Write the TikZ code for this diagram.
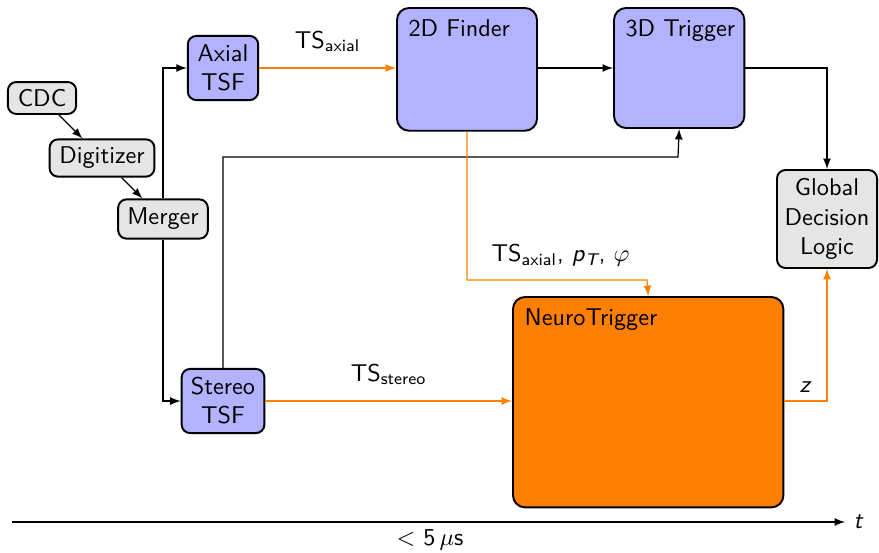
\documentclass[tikz,border=0pt]{standalone}
\usepackage{amsmath}
\renewcommand{\familydefault}{\sfdefault}

\tikzset{
  box/.style={draw, thick, rounded corners=3.5pt, fill=gray!20, align=center, inner sep=3pt},
  tsfbox/.style={box, fill=blue!30, minimum height=0.93cm},
  unitbox/.style={draw, thick, rounded corners=5pt, anchor=north west},
  sig/.style={-latex, line width=0.5pt},
  osig/.style={-latex, line width=0.5pt, draw=orange},
}

\begin{document}
\begin{tikzpicture}[x=0.0145cm, y=-0.0145cm]
\useasboundingbox (0,0) rectangle (879,552);

% front end
\node[box, minimum width=0.99cm, minimum height=0.46cm] (cdc) at (42,98) {CDC};
\node[box, minimum width=1.52cm, minimum height=0.54cm] (digi) at (102,158) {Digitizer};
\node[box, minimum width=1.3cm, minimum height=0.57cm] (merger) at (163,219) {Merger};

% track segment finders
\node[tsfbox, minimum width=1.02cm] (axial) at (223,68) {Axial\\TSF};
\node[tsfbox, minimum width=1.2cm] (stereo) at (223,401) {Stereo\\TSF};

% track finding
\node[unitbox, fill=blue!30, minimum width=2.03cm, minimum height=1.78cm,
  label={[anchor=north west, inner sep=5pt]north west:2D Finder}] (finder) at (396,7) {};
\node[unitbox, fill=blue!30, minimum width=1.89cm, minimum height=1.74cm,
  label={[anchor=north west, inner sep=5pt]north west:3D Trigger}] (trig3d) at (613,7) {};
\node[unitbox, fill=orange, minimum width=3.92cm, minimum height=3.05cm,
  label={[anchor=north west, inner sep=5pt]north west:NeuroTrigger}] (neuro) at (512,296) {};
\node[box, minimum width=1.45cm, minimum height=1.42cm] (gdl) at (827,219) {Global\\Decision\\Logic};

% connections
\draw[sig] (cdc) -- (digi);
\draw[sig] (digi) -- (merger);
\draw[sig] (merger.north) |- (axial.west);
\draw[sig] (merger.south) |- (stereo.west);
\draw[osig] (axial.east) -- node[above=3pt] {TS$_{\text{axial}}$} (axial.east -| finder.west);
\draw[sig] (finder.east |- axial.east) -- (trig3d.west |- axial.east);
\draw[sig] (trig3d.east |- axial.east) -| (gdl.north);
\coordinate (j3d) at (678,157);
\draw[sig] (stereo.north) |- (j3d) -- (trig3d.south);
\coordinate (jnt) at (647,280);
\draw[osig] (finder.south) |- node[pos=0.76, above=2pt] {TS$_{\text{axial}}$, \textit{p}$_{\textit{T}}$, $\varphi$} (jnt) -- (neuro.north);
\draw[osig] (stereo.east) -- node[above=3pt] {TS$_{\text{stereo}}$} (stereo.east -| neuro.west);
\draw[osig] (neuro.east |- stereo.east) -| node[pos=0.25, above] {\textit{z}} (gdl.south);

% time axis
\coordinate (t0) at (12,522);
\coordinate (t1) at (845,522);
\draw[sig] (t0) -- (t1) node[right] {\textit{t}};
\node (latency) at (430,540) {$<$ 5\,$\mu$s};
\end{tikzpicture}
\end{document}
